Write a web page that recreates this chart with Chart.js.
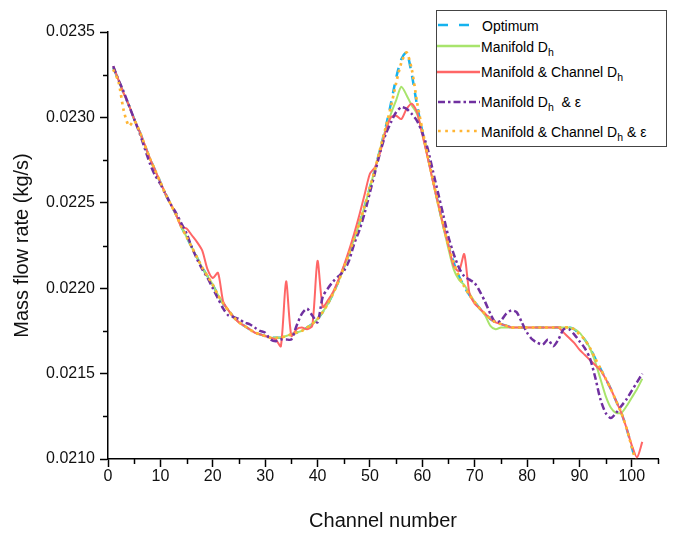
<!DOCTYPE html>
<html>
<head>
<meta charset="utf-8">
<script src="https://cdn.jsdelivr.net/npm/chart.js@4.4.1/dist/chart.umd.min.js"></script>
<style>
  html, body { margin:0; padding:0; background:#fff; }
  #wrap { position:relative; width:673px; height:533px; }
  #legend { position:absolute; left:436px; top:10px; width:231px; height:137px; border:1px solid #444; box-sizing:border-box; background:#fff;
            font-family:Arial, "Liberation Sans", sans-serif; font-size:14px; color:#000; }
  #legend .sw { position:absolute; left:0; }
  #legend .tx { position:absolute; left:44px; white-space:nowrap; line-height:16px; height:16px; }
  #legend sub { font-size:10.5px; vertical-align:-4px; line-height:0; }
</style>
</head>
<body>
<div id="wrap">
  <canvas id="c" width="673" height="533"></canvas>
  <div id="legend">
    <svg class="sw" style="top:11px" width="48" height="6"><line x1="1" y1="3" x2="33" y2="3" stroke="#15B2EE" stroke-width="2.5" stroke-dasharray="10 11"/></svg>
    <div class="tx" style="top:7px;left:45px">Optimum</div>
    <svg class="sw" style="top:32px" width="48" height="6"><line x1="0" y1="3" x2="43" y2="3" stroke="#A8E46C" stroke-width="2.5"/></svg>
    <div class="tx" style="top:28px">Manifold D<sub>h</sub></div>
    <svg class="sw" style="top:58px" width="48" height="6"><line x1="0" y1="3" x2="43" y2="3" stroke="#FF6666" stroke-width="2.5"/></svg>
    <div class="tx" style="top:53px">Manifold &amp; Channel D<sub>h</sub></div>
    <svg class="sw" style="top:88px" width="48" height="6"><line x1="1" y1="3" x2="43" y2="3" stroke="#7030A0" stroke-width="2.5" stroke-dasharray="7 3 2.5 3"/></svg>
    <div class="tx" style="top:83px">Manifold D<sub>h</sub>&nbsp; &amp; ε</div>
    <svg class="sw" style="top:117px" width="48" height="6"><line x1="1" y1="3" x2="42" y2="3" stroke="#FFB534" stroke-width="2.7" stroke-dasharray="2.7 4.5"/></svg>
    <div class="tx" style="top:113px">Manifold &amp; Channel D<sub>h</sub> &amp; ε</div>
  </div>
</div>
<script>
const channels = [1,2,3,4,5,6,7,8,9,10,11,12,13,14,15,16,17,18,19,20,21,22,23,24,25,26,27,28,29,30,31,32,33,34,35,36,37,38,39,40,41,42,43,44,45,46,47,48,49,50,51,52,53,54,55,56,57,58,59,60,61,62,63,64,65,66,67,68,69,70,71,72,73,74,75,76,77,78,79,80,81,82,83,84,85,86,87,88,89,90,91,92,93,94,95,96,97,98,99,100,101,102];

const optimum = [0.02329,0.02322,0.02314,0.02307,0.02299,0.02292,0.02284,0.02276,0.02269,0.02262,
0.02255,0.02249,0.02243,0.02236,0.02230,0.02224,0.02218,0.02212,0.02207,0.02202,
0.02196,0.02191,0.02187,0.02183,0.02180,0.02178,0.02176,0.02174,0.02173,0.02172,
0.02171,0.02171,0.02171,0.02172,0.02173,0.02174,0.02175,0.02177,0.02179,0.02182,
0.02186,0.02191,0.02197,0.02204,0.02212,0.02220,0.02229,0.02238,0.02248,0.02259,
0.02270,0.02282,0.02294,0.02308,0.02323,0.02334,0.02338,0.02325,0.02307,0.02292,
0.02278,0.02264,0.02250,0.02237,0.02225,0.02215,0.02207,0.02201,0.02196,0.02192,
0.02188,0.02185,0.02182,0.02180,0.02179,0.02178,0.02177,0.02177,0.02177,0.02177,
0.02177,0.02177,0.02177,0.02177,0.02177,0.02177,0.02177,0.02177,0.02176,0.02173,
0.02170,0.02165,0.02159,0.02153,0.02147,0.02141,0.02134,0.02127,0.02118,0.02107,
0.02096,0.02086];

const manifoldDh = [0.02329,0.02322,0.02314,0.02307,0.02299,0.02292,0.02284,0.02276,0.02269,0.02262,
0.02255,0.02249,0.02243,0.02236,0.02230,0.02224,0.02218,0.02212,0.02207,0.02202,
0.02196,0.02191,0.02187,0.02183,0.02180,0.02178,0.02176,0.02174,0.02173,0.02172,
0.02171,0.02171,0.02171,0.02172,0.02173,0.02174,0.02175,0.02177,0.02179,0.02182,
0.02186,0.02191,0.02197,0.02204,0.02212,0.02220,0.02229,0.02238,0.02248,0.02259,
0.02270,0.02282,0.02293,0.02302,0.02310,0.02318,0.02313,0.02307,0.02302,0.02291,
0.02277,0.02263,0.02249,0.02236,0.02223,0.02211,0.02205,0.02202,0.02197,0.02192,
0.02188,0.02184,0.02178,0.02176,0.02177,0.02177,0.02177,0.02177,0.02177,0.02177,
0.02177,0.02177,0.02177,0.02177,0.02177,0.02177,0.02177,0.02177,0.02176,0.02174,
0.02170,0.02165,0.02157,0.02147,0.02137,0.02130,0.02127,0.02127,0.02131,0.02136,
0.02141,0.02147];

const manifoldChannelDh = [0.02330,0.02322,0.02314,0.02307,0.02299,0.02292,0.02284,0.02276,0.02269,0.02262,
0.02255,0.02249,0.02243,0.02236,0.02235,0.02231,0.02227,0.02222,0.02211,0.02206,
0.02209,0.02192,0.02187,0.02183,0.02180,0.02178,0.02176,0.02174,0.02173,0.02172,
0.02171,0.02170,0.02166,0.02204,0.02172,0.02176,0.02177,0.02176,0.02178,0.02216,
0.02189,0.02193,0.02198,0.02205,0.02213,0.02222,0.02232,0.02243,0.02255,0.02267,
0.02271,0.02280,0.02292,0.02300,0.02301,0.02299,0.02305,0.02308,0.02303,0.02290,
0.02277,0.02263,0.02250,0.02237,0.02225,0.02213,0.02210,0.02220,0.02197,0.02191,
0.02188,0.02185,0.02182,0.02180,0.02179,0.02178,0.02177,0.02177,0.02177,0.02177,
0.02177,0.02177,0.02177,0.02177,0.02177,0.02177,0.02174,0.02171,0.02168,0.02164,
0.02161,0.02158,0.02155,0.02152,0.02147,0.02141,0.02134,0.02127,0.02118,0.02108,
0.02101,0.02110];

const manifoldDhEps = [0.02330,0.02322,0.02315,0.02307,0.02299,0.02291,0.02282,0.02273,0.02266,0.02261,
0.02255,0.02249,0.02244,0.02238,0.02232,0.02224,0.02217,0.02211,0.02206,0.02200,
0.02194,0.02188,0.02184,0.02183,0.02182,0.02180,0.02179,0.02177,0.02175,0.02174,
0.02170,0.02169,0.02170,0.02170,0.02170,0.02178,0.02185,0.02188,0.02184,0.02180,
0.02195,0.02200,0.02204,0.02207,0.02210,0.02216,0.02226,0.02234,0.02244,0.02256,
0.02268,0.02280,0.02290,0.02297,0.02303,0.02306,0.02305,0.02302,0.02298,0.02291,
0.02282,0.02269,0.02256,0.02243,0.02230,0.02220,0.02212,0.02207,0.02205,0.02203,
0.02198,0.02192,0.02185,0.02180,0.02181,0.02185,0.02187,0.02186,0.02180,0.02174,
0.02170,0.02168,0.02167,0.02170,0.02166,0.02170,0.02176,0.02176,0.02173,0.02169,
0.02165,0.02159,0.02148,0.02135,0.02127,0.02124,0.02127,0.02131,0.02135,0.02140,
0.02145,0.02150];

const manifoldChannelDhEps = [0.02328,0.02321,0.02304,0.02295,0.02298,0.02292,0.02284,0.02276,0.02269,0.02262,
0.02255,0.02249,0.02243,0.02236,0.02230,0.02224,0.02218,0.02212,0.02207,0.02202,
0.02196,0.02191,0.02187,0.02183,0.02180,0.02178,0.02176,0.02174,0.02173,0.02172,
0.02171,0.02171,0.02171,0.02172,0.02173,0.02174,0.02175,0.02177,0.02179,0.02182,
0.02186,0.02191,0.02197,0.02204,0.02212,0.02220,0.02229,0.02238,0.02248,0.02259,
0.02270,0.02282,0.02294,0.02306,0.02320,0.02332,0.02338,0.02328,0.02309,0.02293,
0.02278,0.02264,0.02250,0.02237,0.02225,0.02215,0.02207,0.02201,0.02196,0.02192,
0.02188,0.02185,0.02182,0.02180,0.02179,0.02178,0.02177,0.02177,0.02177,0.02177,
0.02177,0.02177,0.02177,0.02177,0.02177,0.02177,0.02177,0.02177,0.02176,0.02173,
0.02170,0.02165,0.02159,0.02153,0.02147,0.02141,0.02134,0.02127,0.02118,0.02107,
0.02096,0.02086];

const xTicks = [0,10,20,30,40,50,60,70,80,90,100];
const xMinorTicks = [5,15,25,35,45,55,65,75,85,95,105];
const yTicks = [0.0210,0.0215,0.0220,0.0225,0.0230,0.0235];
const yMinorTicks = [0.02125,0.02175,0.02225,0.02275,0.02325];

const toXY = vals => channels.map((c,i) => ({x:c, y:vals[i]}));
const FONT = "Arial, 'Liberation Sans', sans-serif";

const minorTicks = {
  id: 'minorTicks',
  afterDraw(chart) {
    const ctx = chart.ctx, xs = chart.scales.x, ys = chart.scales.y;
    ctx.save();
    ctx.strokeStyle = '#000';
    ctx.lineWidth = 1.5;
    xMinorTicks.forEach(v => {
      const px = Math.round(xs.getPixelForValue(v)) + 0.5;
      ctx.beginPath(); ctx.moveTo(px, xs.top); ctx.lineTo(px, xs.top + 5); ctx.stroke();
    });
    yMinorTicks.forEach(v => {
      const py = Math.round(ys.getPixelForValue(v)) + 0.5;
      ctx.beginPath(); ctx.moveTo(ys.right - 5, py); ctx.lineTo(ys.right, py); ctx.stroke();
    });
    ctx.restore();
  }
};

new Chart(document.getElementById('c'), {
  type: 'line',
  data: {
    datasets: [
      { label: 'Optimum', data: toXY(optimum), borderColor: '#15B2EE', borderWidth: 2.5, borderDash: [9,8], order: 5 },
      { label: 'Manifold Dₕ', data: toXY(manifoldDh), borderColor: '#A8E46C', borderWidth: 2, order: 4 },
      { label: 'Manifold & Channel Dₕ', data: toXY(manifoldChannelDh), borderColor: '#FF6666', borderWidth: 2, order: 3 },
      { label: 'Manifold Dₕ & ε', data: toXY(manifoldDhEps), borderColor: '#7030A0', borderWidth: 2.5, borderDash: [7,3,2.5,3], order: 2 },
      { label: 'Manifold & Channel Dₕ & ε', data: toXY(manifoldChannelDhEps), borderColor: '#FFB534', borderWidth: 2.7, borderDash: [2.7,4], order: 1 }
    ]
  },
  options: {
    responsive: false,
    animation: false,
    devicePixelRatio: 1,
    layout: { padding: { top: 32, right: 15, bottom: 0, left: 0 } },
    plugins: { legend: { display: false }, tooltip: { enabled: false } },
    elements: { point: { radius: 0 }, line: { tension: 0.25, fill: false } },
    scales: {
      x: {
        type: 'linear', min: 0, max: 105,
        afterBuildTicks: s => { s.ticks = xTicks.map(v => ({ value: v })); },
        afterFit: s => { s.height = 74; },
        ticks: { font: { family: FONT, size: 16 }, color: '#111', padding: 0, maxRotation: 0, includeBounds: false },
        grid: { display: true, drawOnChartArea: false, drawTicks: true, tickLength: 8, tickWidth: 1.5, tickColor: '#000' },
        border: { display: true, color: '#000', width: 1.5 },
        title: { display: true, text: 'Channel number', font: { family: FONT, size: 20 }, color: '#111', padding: { top: 0, bottom: 0 } }
      },
      y: {
        type: 'linear', min: 0.021, max: 0.0235,
        afterBuildTicks: s => { s.ticks = yTicks.map(v => ({ value: v })); },
        afterFit: s => { s.width = 108; },
        ticks: { font: { family: FONT, size: 16 }, color: '#111', padding: 5, callback: v => Number(v).toFixed(4) },
        grid: { display: true, drawOnChartArea: false, drawTicks: true, tickLength: 8, tickWidth: 1.5, tickColor: '#000' },
        border: { display: true, color: '#000', width: 1.5 },
        title: { display: true, text: 'Mass flow rate (kg/s)', font: { family: FONT, size: 20 }, color: '#111', padding: { top: 10, bottom: 0 } }
      }
    }
  },
  plugins: [minorTicks]
});
</script>
</body>
</html>
